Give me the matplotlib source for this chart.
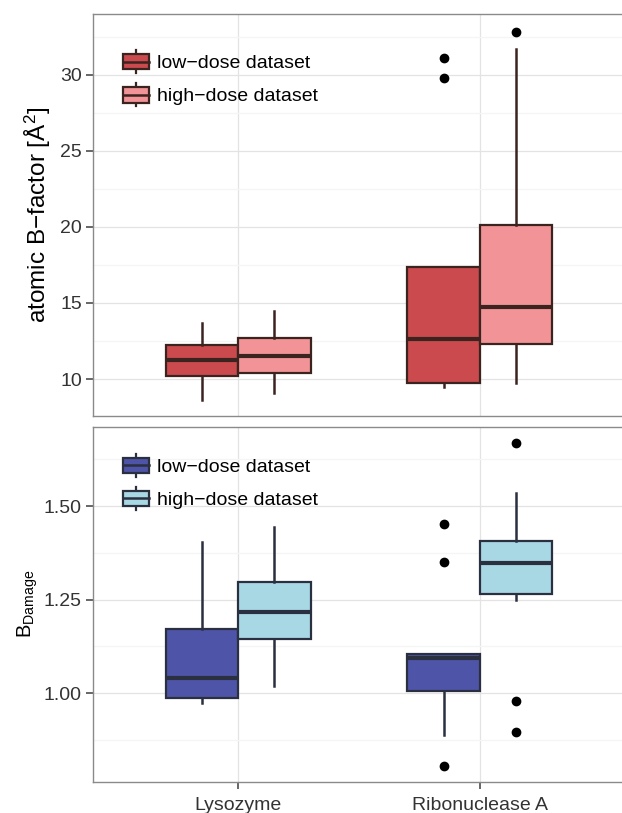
"""
Box plots of atomic B-factors and B_Damage for two proteins,
low-dose vs high-dose datasets
"""

### Import modules
import numpy as np
import matplotlib.pyplot as plt
from matplotlib.patches import Patch, Rectangle
from matplotlib.lines import Line2D
from matplotlib.legend_handler import HandlerBase
from matplotlib.ticker import MultipleLocator

### Data
proteins = ['Lysozyme', 'Ribonuclease A']
datasets = ['low\u2212dose dataset', 'high\u2212dose dataset']

# [whislo, q1, median, q3, whishi] for Lysozyme, Ribonuclease A
bfac_low = [[8.62, 10.22, 11.25, 12.24, 13.68],
            [9.49, 9.76, 12.61, 17.39, 17.39]]
bfac_high = [[9.06, 10.41, 11.51, 12.72, 14.49],
             [9.72, 12.28, 14.72, 20.13, 31.71]]
bfac_low_fliers = [[], [31.1, 29.8]]
bfac_high_fliers = [[], [32.8]]

bdam_low = [[0.973, 0.987, 1.042, 1.171, 1.405],
            [0.889, 1.007, 1.093, 1.104, 1.104]]
bdam_high = [[1.020, 1.145, 1.218, 1.296, 1.443],
             [1.249, 1.264, 1.349, 1.407, 1.534]]
bdam_low_fliers = [[], [1.452, 1.350, 0.806]]
bdam_high_fliers = [[], [1.669, 0.979, 0.896]]

### Plot settings
plt.rc('font', family='Liberation Sans')
plt.rc('axes', unicode_minus=True)

### Legend key drawn like a little boxplot
class HandlerBox(HandlerBase):
    def create_artists(self, legend, orig, xd, yd, width, height, fontsize, trans):
        fc = orig.get_facecolor()
        ec = orig.get_edgecolor()
        x0, y0 = -xd, -yd
        bh = height * 0.66
        wl = Line2D([x0 + width / 2] * 2, [y0, y0 + height], color=ec,
                    linewidth=1.6, transform=trans)
        rect = Rectangle((x0, y0 + (height - bh) / 2), width, bh,
                         facecolor=fc, edgecolor=ec, linewidth=1.6,
                         transform=trans)
        med = Line2D([x0, x0 + width], [y0 + height / 2] * 2, color=ec,
                     linewidth=1.8, transform=trans)
        return [wl, rect, med]

def make_stats(vals, fliers):
    out = []
    for v, f in zip(vals, fliers):
        out.append(dict(whislo=v[0], q1=v[1], med=v[2], q3=v[3],
                        whishi=v[4], fliers=f))
    return out

def style_panel(ax, ylim, major, minor):
    ax.set_xlim(0.4, 2.6)
    ax.set_ylim(ylim)
    ax.yaxis.set_major_locator(MultipleLocator(major))
    ax.yaxis.set_minor_locator(MultipleLocator(minor))
    ax.set_xticks([1, 2])
    ax.set_axisbelow(True)
    ax.grid(which='major', color='#e3e3e3', linewidth=0.9)
    ax.grid(which='minor', axis='y', color='#f5f5f5', linewidth=0.9)
    for sp in ax.spines.values():
        sp.set_color('#8a8a8a')
        sp.set_linewidth(1.0)
    ax.tick_params(which='major', length=5, width=1.2, color='#4d4d4d',
                   labelsize=14, labelcolor='#333333', pad=3)
    ax.tick_params(axis='x', pad=6)
    ax.tick_params(which='minor', length=0)

def draw_boxes(ax, low, high, low_f, high_f, c_low, c_high, edge, anchor):
    w = 0.30
    pos = np.arange(1, len(proteins) + 1)
    for stats, col, off in [(make_stats(low, low_f), c_low, -w / 2),
                            (make_stats(high, high_f), c_high, w / 2)]:
        ax.bxp(stats, positions=pos + off, widths=w, patch_artist=True,
               showcaps=False, manage_ticks=False,
               boxprops=dict(facecolor=col, edgecolor=edge, linewidth=1.6),
               medianprops=dict(color=edge, linewidth=3),
               whiskerprops=dict(color=edge, linewidth=1.8),
               flierprops=dict(marker='o', markerfacecolor='black',
                               markeredgecolor='black', markersize=6))
    handles = [Patch(facecolor=c_low, edgecolor=edge),
               Patch(facecolor=c_high, edgecolor=edge)]
    le = ax.legend(handles, datasets, loc='upper left', fontsize=14,
                   frameon=False, bbox_to_anchor=anchor, borderpad=0,
                   borderaxespad=0, handlelength=1.37, handleheight=1.45,
                   handletextpad=0.4, labelspacing=0.52,
                   handler_map={Patch: HandlerBox()})
    return le

fig = plt.figure(figsize=(6.22, 8.13), dpi=100)
ax1 = fig.add_axes([0.1495, 0.4883, 0.855, 0.4945])
ax2 = fig.add_axes([0.1495, 0.0385, 0.855, 0.4363])

### Top panel: atomic B-factor
draw_boxes(ax1, bfac_low, bfac_high, bfac_low_fliers, bfac_high_fliers,
           '#cb4a4d', '#f29497', '#3b2420', (0.056, 0.91))
style_panel(ax1, (7.57, 34.0), 5, 2.5)
ax1.set_xticklabels([])
ax1.tick_params(axis='x', length=0)
ax1.set_ylabel('atomic B\u2212factor [$\\mathregular{\\AA^2}$]', fontsize=17.5,
               labelpad=5)

### Bottom panel: B_Damage
draw_boxes(ax2, bdam_low, bdam_high, bdam_low_fliers, bdam_high_fliers,
           '#4e54a8', '#a9d8e5', '#2b3040', (0.056, 0.925))
style_panel(ax2, (0.764, 1.711), 0.25, 0.125)
ax2.set_yticks([1.0, 1.25, 1.5])
ax2.set_yticklabels(['1.00', '1.25', '1.50'])
ax2.set_xticklabels(proteins)
ax2.set_ylabel('B$_{\\mathregular{Damage}}$', fontsize=14.5, labelpad=3)

plt.savefig('out.png', dpi=100, facecolor='white')
